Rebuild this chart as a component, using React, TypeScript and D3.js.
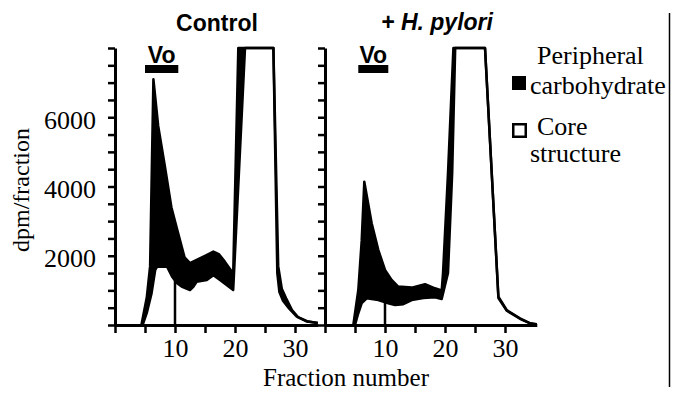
import React, { useEffect, useRef } from 'react';
import * as d3 from 'd3';

// Control column: total (upper edge) and core (lower edge)
const controlTotalFrac = [4.4, 5.3, 5.85, 6.4, 7.2, 8.3, 9.4, 10.3, 11.6, 12.5, 13.6, 15, 16.4, 17.3, 18.3, 19.7, 20.55, 26.4, 27.2, 27.8, 28.5, 29.5, 30.5, 32, 33.8];
const controlTotal = [0, 800, 1700, 7100, 5750, 4600, 3400, 2800, 1950, 1790, 1880, 2000, 2120, 2050, 1830, 1490, 8000, 8000, 1700, 1050, 780, 430, 230, 110, 60];
const controlCoreFrac = [4.6, 5.3, 6.1, 6.7, 7, 8.7, 9.5, 10.3, 11.1, 12.5, 13.05, 13.6, 15.3, 16.4, 17.5, 19.7, 21.67, 26.4, 27.05, 27.4, 28, 29, 30.3, 32, 33.8];
const controlCore = [0, 350, 920, 1590, 1680, 1680, 1400, 1210, 1110, 1010, 1100, 1250, 1300, 1440, 1300, 1010, 8000, 8000, 1500, 950, 700, 480, 240, 100, 55];

// + H. pylori column
const pyloriTotalFrac = [4.72, 5.55, 6.12, 6.55, 7.78, 8.88, 10, 11.1, 12.2, 14.45, 16.67, 18.33, 19.45, 19.67, 20.5, 21.4, 26.67, 28.9, 30.3, 32.5, 34.2, 35.3];
const pyloriTotal = [0, 1010, 2450, 4140, 2940, 2170, 1590, 1300, 1110, 1080, 1180, 1060, 1000, 1500, 4390, 8000, 8000, 820, 430, 190, 50, 20];
const pyloriCoreFrac = [5.0, 5.55, 6.12, 6.95, 8.88, 10.55, 11.67, 13.05, 14.45, 16.4, 18.33, 19.45, 20.5, 21.2, 21.7, 26.67, 28.9, 30.3, 32.5, 34.2, 35.3];
const pyloriCore = [0, 340, 630, 770, 720, 630, 580, 600, 720, 780, 800, 750, 1500, 4390, 8000, 8000, 780, 410, 180, 45, 15];

const panelTitles = ['Control', '+ H. pylori'];
const voStart = [5.0, 5.55];
const voEnd = [10.55, 10.55];
const coreStartFrac = 10;

const yMax = 8000;
const yTickLabels = [2000, 4000, 6000];
const xTickLabels = [10, 20, 30];
const legendLabels = [['Peripheral', 'carbohydrate'], ['Core', 'structure']];

const serif = "'Liberation Serif', 'DejaVu Serif', serif";
const sans = "'Liberation Sans', Arial, sans-serif";

function interp(fr: number[], vals: number[], f: number) {
    const i = d3.bisectRight(fr, f);
    if (i <= 0) return vals[0];
    if (i >= fr.length) return vals[vals.length - 1];
    const t = (f - fr[i - 1]) / (fr[i] - fr[i - 1]);
    return vals[i - 1] + t * (vals[i] - vals[i - 1]);
}

export default function App() {
    const ref = useRef<SVGSVGElement>(null);

    useEffect(() => {
        const svg = d3.select(ref.current);
        svg.selectAll('*').remove();

        const yTop = 48, yBase = 325, unitPx = 6;
        const panelLeft = [115, 325];
        const titleX = [217, 437];
        const titleY = [31, 30];

        const y = d3.scaleLinear().domain([0, yMax]).range([yBase, yTop]);

        const panels = [
            { tf: controlTotalFrac, tv: controlTotal, cf: controlCoreFrac, cv: controlCore },
            { tf: pyloriTotalFrac, tv: pyloriTotal, cf: pyloriCoreFrac, cv: pyloriCore },
        ];

        panels.forEach((p, i) => {
            const last = Math.max(p.tf[p.tf.length - 1], p.cf[p.cf.length - 1]);
            const x = d3.scaleLinear()
                .domain([0, last])
                .range([panelLeft[i], panelLeft[i] + unitPx * last]);
            const g = svg.append('g');

            const total: [number, number][] = p.tf.map((f, k) => [f, p.tv[k]]);
            const core: [number, number][] = p.cf.map((f, k) => [f, p.cv[k]]);
            const line = d3.line<[number, number]>()
                .x(d => x(d[0]))
                .y(d => y(d[1]));

            // peripheral carbohydrate: between total and core
            g.append('path')
                .attr('d', line(total.concat(core.slice().reverse())) + 'Z')
                .attr('fill', '#000');

            [total, core].forEach(s => {
                g.append('path')
                    .attr('d', line(s))
                    .attr('fill', 'none')
                    .attr('stroke', '#000')
                    .attr('stroke-width', 2.5)
                    .attr('stroke-linejoin', 'round');
            });

            // left edge of core structure
            g.append('line')
                .attr('x1', x(coreStartFrac))
                .attr('x2', x(coreStartFrac))
                .attr('y1', y(interp(p.cf, p.cv, coreStartFrac)))
                .attr('y2', y(0))
                .attr('stroke', '#000')
                .attr('stroke-width', 2.5);

            // axes
            const yAxis = g.append('g')
                .attr('transform', `translate(${panelLeft[i]},0)`)
                .call(d3.axisLeft(y)
                    .tickValues(d3.range(0, yMax + 1, 500))
                    .tickSize(7)
                    .tickSizeOuter(0)
                    .tickPadding(12)
                    .tickFormat(d => (i === 0 && yTickLabels.includes(+d)) ? String(d) : ''));
            const xAxis = g.append('g')
                .attr('transform', `translate(0,${yBase})`)
                .call(d3.axisBottom(x)
                    .tickValues(d3.range(0, 31, 5))
                    .tickSize(8)
                    .tickSizeOuter(0)
                    .tickPadding(6)
                    .tickFormat(d => xTickLabels.includes(+d) ? String(d) : ''));
            [yAxis, xAxis].forEach(a => {
                a.attr('font-family', null).attr('font-size', null);
                a.select('.domain').attr('stroke-width', 3);
                a.selectAll('.tick line').attr('stroke-width', 2.5);
                a.selectAll('.tick text')
                    .style('font-family', serif)
                    .style('font-size', '26px')
                    .attr('fill', '#000');
            });
            yAxis.selectAll('.tick text').attr('dy', '0.42em');

            // Vo marker
            g.append('rect')
                .attr('x', x(voStart[i]))
                .attr('y', 65)
                .attr('width', x(voEnd[i]) - x(voStart[i]))
                .attr('height', 8)
                .attr('fill', '#000');
            g.append('text')
                .attr('x', (x(voStart[i]) + x(voEnd[i])) / 2)
                .attr('y', 63)
                .attr('text-anchor', 'middle')
                .style('font-family', sans)
                .style('font-weight', 'bold')
                .style('font-size', '23px')
                .text('Vo');

            // title
            svg.append('text')
                .attr('x', titleX[i])
                .attr('y', titleY[i])
                .attr('text-anchor', 'middle')
                .style('font-family', sans)
                .style('font-weight', 'bold')
                .style('font-style', i === 1 ? 'italic' : 'normal')
                .style('font-size', '23px')
                .text(panelTitles[i]);
        });

        // axis titles
        svg.append('text')
            .attr('transform', 'translate(29,190) rotate(-90)')
            .attr('text-anchor', 'middle')
            .style('font-family', serif)
            .style('font-size', '24px')
            .text('dpm/fraction');
        svg.append('text')
            .attr('x', 346)
            .attr('y', 386)
            .attr('text-anchor', 'middle')
            .style('font-family', serif)
            .style('font-size', '25px')
            .text('Fraction number');

        // legend
        const legendY = [76, 123];
        legendLabels.forEach((lab, k) => {
            svg.append('rect')
                .attr('x', k === 0 ? 512 : 513.25)
                .attr('y', k === 0 ? legendY[k] : legendY[k] + 1.25)
                .attr('width', k === 0 ? 14 : 12.5)
                .attr('height', k === 0 ? 14 : 12.5)
                .attr('fill', k === 0 ? '#000' : '#fff')
                .attr('stroke', '#000')
                .attr('stroke-width', k === 0 ? 0 : 2.5);
            svg.append('text')
                .attr('x', 537)
                .attr('y', k === 0 ? 64 : 135)
                .style('font-family', serif)
                .style('font-size', '26px')
                .text(lab[0]);
            svg.append('text')
                .attr('x', 530)
                .attr('y', k === 0 ? 94 : 162)
                .style('font-family', serif)
                .style('font-size', '26px')
                .text(lab[1]);
        });

        // cover right edge, then frame rule
        svg.append('rect')
            .attr('x', 669.5)
            .attr('y', 0)
            .attr('width', 20)
            .attr('height', 403)
            .attr('fill', '#fff');
        svg.append('line')
            .attr('x1', 669.5)
            .attr('x2', 669.5)
            .attr('y1', 13)
            .attr('y2', 387)
            .attr('stroke', '#000')
            .attr('stroke-width', 1.5);
    }, []);

    return (
        <svg ref={ref} width={687} height={403}
             style={{ position: 'absolute', left: 0, top: 0, background: '#fff' }} />
    );
}
